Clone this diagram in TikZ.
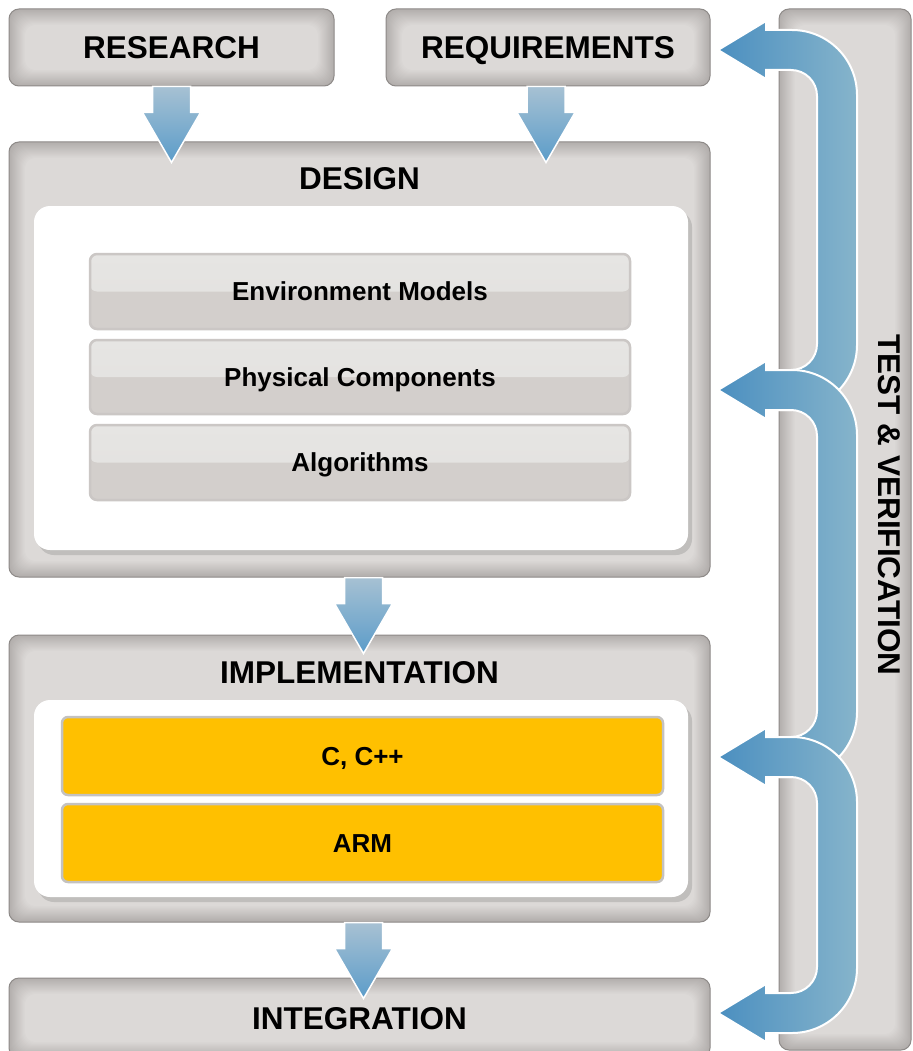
\documentclass[tikz,border=0pt]{standalone}
\usepackage{fontspec}
\setmainfont{Liberation Sans}
\usetikzlibrary{shadows}

\definecolor{paneledge}{HTML}{B2AEAC}
\definecolor{panelmid}{HTML}{DCD9D7}
\definecolor{panelline}{HTML}{8E8A88}
\definecolor{barhigh}{HTML}{E6E5E3}
\definecolor{barlow}{HTML}{D3CFCC}
\definecolor{barline}{HTML}{CBC7C5}
\definecolor{corefill}{HTML}{FFC000}
\definecolor{coreline}{HTML}{C4C2C0}
\definecolor{arrowtop}{HTML}{A7C1D3}
\definecolor{arrowbot}{HTML}{5B9CC9}
\definecolor{loopleft}{HTML}{4B8FC0}
\definecolor{loopright}{HTML}{86B4CB}

\tikzset{
  panel/.style={draw=panelline, line width=1pt, fill=paneledge, rounded corners=10pt, inner sep=0pt,
    path picture={
      \foreach \i in {1,...,16}{
        \pgfmathsetmacro{\mixval}{\i*6.25}
        \fill[panelmid!\mixval!paneledge, rounded corners=10pt]
          ([shift={(\i*1pt,-\i*1pt)}]path picture bounding box.north west) rectangle
          ([shift={(-\i*1pt,\i*1pt)}]path picture bounding box.south east);
      }}},
  title/.style={font=\bfseries\fontsize{31.5}{36}\selectfont, text height=22.6pt, text depth=0pt, inner sep=0pt},
  sheet/.style={fill=white, rounded corners=16pt, inner sep=0pt,
    drop shadow={opacity=0.3, shadow xshift=4pt, shadow yshift=-5pt}},
  layerbar/.style={draw=barline, line width=2.5pt, fill=barlow, rounded corners=7pt, inner sep=0pt,
    font=\bfseries\fontsize{26}{30}\selectfont, text height=18.7pt, text depth=0pt,
    path picture={\shade[top color=barhigh, bottom color=barhigh!80!barlow]
      (path picture bounding box.north west) rectangle (path picture bounding box.east);}},
  corebar/.style={draw=coreline, line width=2.5pt, fill=corefill, rounded corners=6pt, inner sep=0pt,
    font=\bfseries\fontsize{26}{30}\selectfont, text height=18.7pt, text depth=0pt},
  flowarrow/.style={top color=arrowtop, bottom color=arrowbot, draw=white, line width=1.5pt},
  loopband/.style={left color=loopleft, right color=loopright, draw=white, line width=2pt}
}

\begin{document}
\begin{tikzpicture}[x=1pt,y=-1pt]
  \useasboundingbox[fill=white] (0,0) rectangle (912,1051);

  % test column
  \node[panel, minimum width=132pt, minimum height=1041pt] (test) at (845,529.5) {};
  \node[title, rotate=-90] (testtitle) at (890,505) {TEST \& VERIFICATION};

  % inputs
  \node[panel, title, minimum width=325pt, minimum height=77pt] (research) at (171.5,47.5) {RESEARCH};
  \node[panel, title, minimum width=324pt, minimum height=77pt] (req) at (548,47.5) {REQUIREMENTS};

  % design
  \node[panel, minimum width=701pt, minimum height=435pt] (design) at (359.5,359.5) {};
  \node[title] (designtitle) at (359.5,178) {DESIGN};
  \node[sheet, minimum width=654pt, minimum height=344pt] (designsheet) at (361,378) {};
  \node[layerbar, minimum width=540pt, minimum height=75pt] (envmodels) at (360,291.5) {Environment Models};
  \node[layerbar, minimum width=540pt, minimum height=74pt] (physcomp) at (360,377) {Physical Components};
  \node[layerbar, minimum width=540pt, minimum height=75pt] (algos) at (360,462.5) {Algorithms};

  % implementation
  \node[panel, minimum width=701pt, minimum height=287pt] (impl) at (359.5,778.5) {};
  \node[title] (impltitle) at (359.5,672) {IMPLEMENTATION};
  \node[sheet, minimum width=654pt, minimum height=197pt] (implsheet) at (361,798.5) {};
  \node[corebar, minimum width=601pt, minimum height=78pt] (cpp) at (362.5,756) {C, C++};
  \node[corebar, minimum width=601pt, minimum height=78pt] (arm) at (362.5,843) {ARM};

  % integration
  \node[panel, title, minimum width=701pt, minimum height=80pt] (integ) at (359.5,1018) {INTEGRATION};

  % flow arrows
  \path[flowarrow] ([xshift=-19pt]research.south) -- ++(38,0) -- ++(0,26) -- ++(10,0) -- ++(-29,50) -- ++(-29,-50) -- ++(10,0) -- cycle;
  \path[flowarrow] ([xshift=-21pt]req.south) -- ++(38,0) -- ++(0,26) -- ++(10,0) -- ++(-29,50) -- ++(-29,-50) -- ++(10,0) -- cycle;
  \path[flowarrow] ([xshift=-15pt]design.south) -- ++(38,0) -- ++(0,26) -- ++(10,0) -- ++(-29,50) -- ++(-29,-50) -- ++(10,0) -- cycle;
  \path[flowarrow] ([xshift=-15pt]impl.south) -- ++(38,0) -- ++(0,26) -- ++(10,0) -- ++(-29,50) -- ++(-29,-50) -- ++(10,0) -- cycle;

  % feedback loops
  \coordinate (inreq) at (718,50);
  \coordinate (indesign) at (718,390);
  \coordinate (inimpl) at (718,757);
  \coordinate (ininteg) at (718,1013);
  \path[loopband] (inreq) -- ++(48,-29) -- ++(0,9) [rounded corners=65pt] -- ++(91,0) -- ++(0,380)
    [sharp corners] -- ++(-91,0) -- ++(0,9) -- (indesign) -- ++(48,-29) -- ++(0,9)
    [rounded corners=26pt] -- ++(51,0) -- ++(0,-300) [sharp corners] -- ++(-51,0) -- ++(0,9) -- cycle;
  \path[loopband] (indesign) -- ++(48,-29) -- ++(0,9) [rounded corners=65pt] -- ++(91,0) -- ++(0,407)
    [sharp corners] -- ++(-91,0) -- ++(0,9) -- (inimpl) -- ++(48,-29) -- ++(0,9)
    [rounded corners=26pt] -- ++(51,0) -- ++(0,-327) [sharp corners] -- ++(-51,0) -- ++(0,9) -- cycle;
  \path[loopband] (inimpl) -- ++(48,-29) -- ++(0,9) [rounded corners=65pt] -- ++(91,0) -- ++(0,296)
    [sharp corners] -- ++(-91,0) -- ++(0,9) -- (ininteg) -- ++(48,-29) -- ++(0,9)
    [rounded corners=26pt] -- ++(51,0) -- ++(0,-216) [sharp corners] -- ++(-51,0) -- ++(0,9) -- cycle;
\end{tikzpicture}
\end{document}
